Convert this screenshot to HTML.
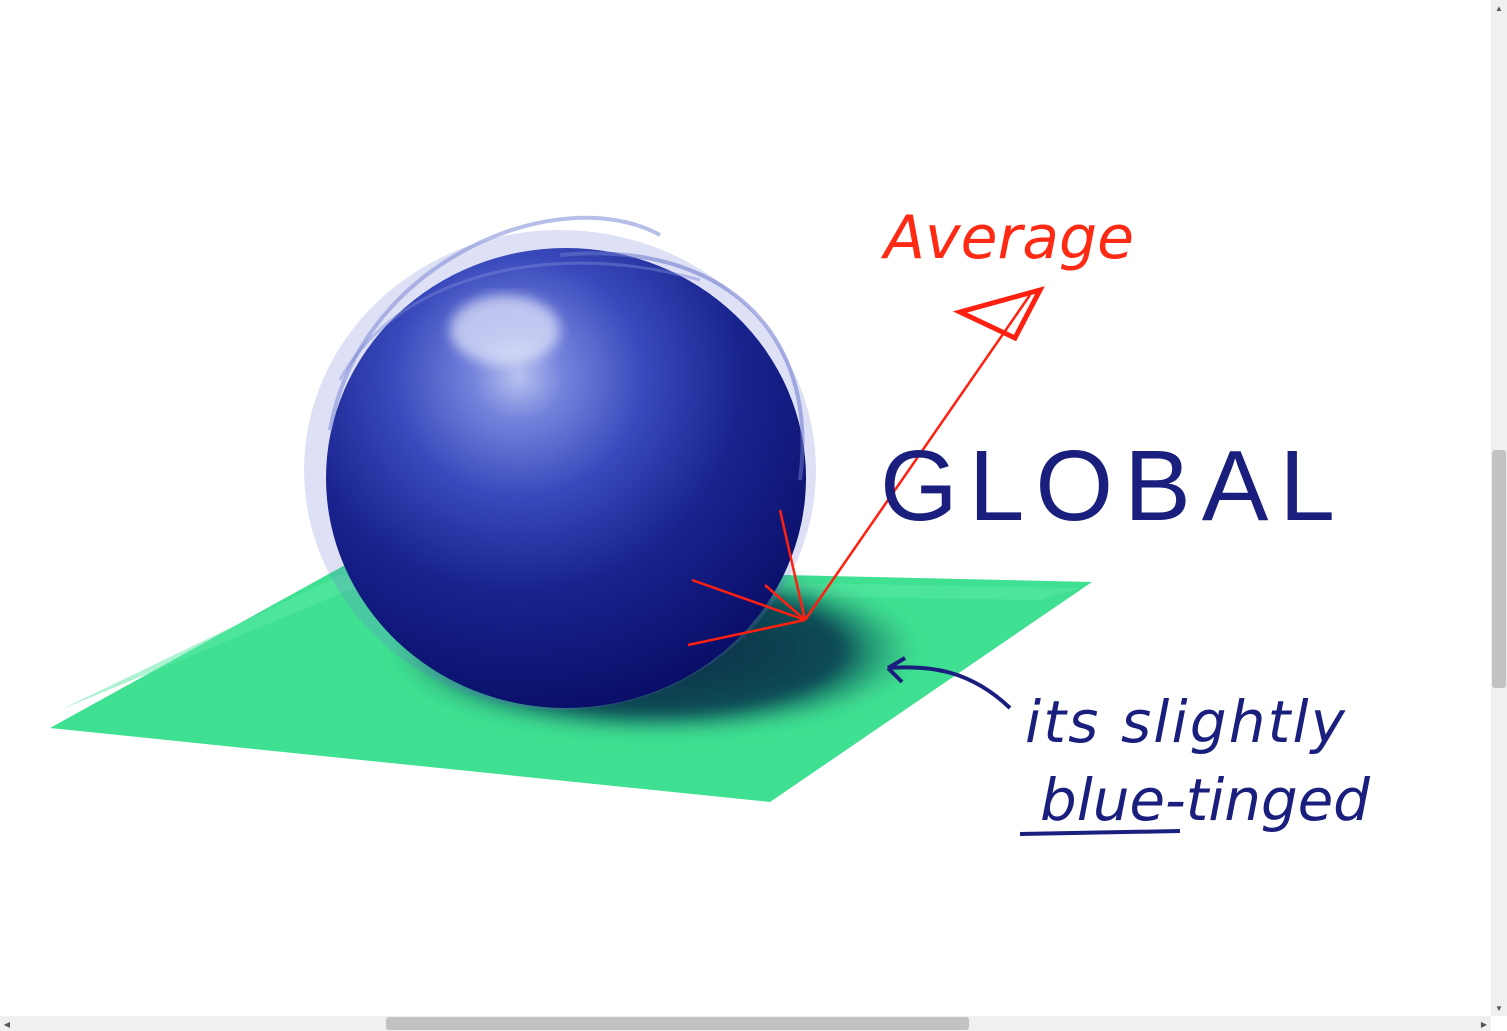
<!DOCTYPE html>
<html><head><meta charset="utf-8">
<style>
html,body{margin:0;padding:0;background:#fff;width:1507px;height:1031px;overflow:hidden}
svg{display:block}
.hand{font-family:"Liberation Sans","DejaVu Sans",sans-serif;}
</style></head>
<body>
<svg width="1507" height="1031" viewBox="0 0 1507 1031">
<defs>
  <radialGradient id="sph" cx="0.4" cy="0.28" r="0.78">
    <stop offset="0" stop-color="#b8c2f0"/>
    <stop offset="0.12" stop-color="#7484dc"/>
    <stop offset="0.33" stop-color="#3a4abc"/>
    <stop offset="0.6" stop-color="#18238e"/>
    <stop offset="1" stop-color="#070b62"/>
  </radialGradient>
  <radialGradient id="shd" cx="0.5" cy="0.5" r="0.5">
    <stop offset="0" stop-color="#062e48"/>
    <stop offset="0.7" stop-color="#0c4a55"/>
    <stop offset="1" stop-color="#2a9a78" stop-opacity="0"/>
  </radialGradient>
  <filter id="blur"><feGaussianBlur stdDeviation="6"/></filter>
</defs>
<rect width="1507" height="1031" fill="#fff"/>
<polygon points="50,728 345,565 1092,582 770,802" fill="#3fe091"/>
<polygon points="60,710 340,575 1080,588 1040,600 350,590" fill="#5ce8a6" opacity="0.5"/>
<ellipse cx="655" cy="650" rx="265" ry="88" fill="url(#shd)" filter="url(#blur)"/>
<ellipse cx="560" cy="470" rx="256" ry="240" fill="#6b78d0" opacity="0.22"/>
<ellipse cx="566" cy="478" rx="240" ry="230" fill="url(#sph)"/>
<ellipse cx="505" cy="330" rx="55" ry="35" fill="#f0f2ff" opacity="0.65" filter="url(#blur)"/>
<path d="M330,430 C360,260 560,180 660,235" stroke="#7c88d6" stroke-width="4" fill="none" opacity="0.55"/>
<path d="M560,255 C720,240 820,330 800,480" stroke="#6a76cc" stroke-width="4" fill="none" opacity="0.55"/>
<path d="M340,380 C400,270 560,240 700,280" stroke="#7c88d6" stroke-width="3" fill="none" opacity="0.45"/>
<g stroke="#ff2010" stroke-width="2.5" fill="none">
  <line x1="805" y1="620" x2="1030" y2="295"/>
  <line x1="805" y1="620" x2="780" y2="510"/>
  <line x1="805" y1="620" x2="692" y2="580"/>
  <line x1="805" y1="620" x2="688" y2="645"/>
  <line x1="805" y1="620" x2="765" y2="585"/>
</g>
<path d="M960,312 L1040,290 L1015,338 Z" fill="none" stroke="#ff2010" stroke-width="5"/>
<text x="884" y="258" font-size="60" fill="#ff2a14" font-style="italic" textLength="250" style="font-family:'DejaVu Sans',cursive">Average</text>
<text class="hand" x="880" y="520" font-size="100" fill="#1a1f7e" textLength="455">GLOBAL</text>
<path d="M1010,708 C970,670 930,665 888,668 M888,668 L905,658 M888,668 L902,682" stroke="#1a1f7e" stroke-width="4" fill="none"/>
<text x="1025" y="742" font-size="58" fill="#1a1f7e" textLength="320" style="font-family:'DejaVu Sans',cursive" font-style="italic">its slightly</text>
<text x="1040" y="820" font-size="58" fill="#1a1f7e" textLength="330" style="font-family:'DejaVu Sans',cursive" font-style="italic">blue-tinged</text>
<line x1="1020" y1="834" x2="1180" y2="831" stroke="#1a1f7e" stroke-width="4"/>
<g>
  <rect x="1491" y="0" width="16" height="1016" fill="#f0f0f0"/>
  <rect x="1492" y="450" width="14" height="238" rx="3" fill="#c2c2c2"/>
  <text x="1499" y="11" font-size="8" text-anchor="middle" fill="#555">▲</text>
  <text x="1499" y="1011" font-size="8" text-anchor="middle" fill="#555">▼</text>
</g>
<g>
  <rect x="0" y="1016" width="1491" height="15" fill="#f0f0f0"/>
  <rect x="386" y="1017" width="583" height="13" rx="3" fill="#c2c2c2"/>
  <text x="7" y="1027" font-size="8" text-anchor="middle" fill="#555">◀</text>
  <text x="1484" y="1027" font-size="8" text-anchor="middle" fill="#555">▶</text>
</g>
</svg>
</body></html>
